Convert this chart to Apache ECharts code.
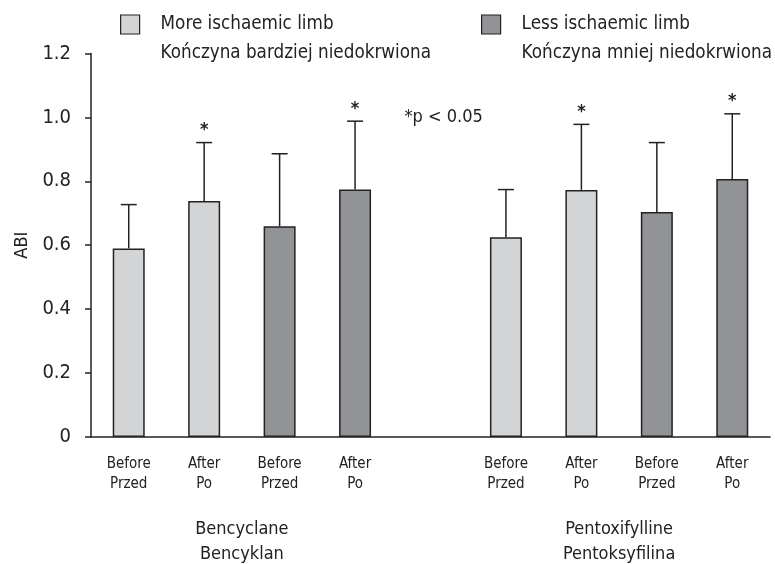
<!DOCTYPE html>
<html>
<head>
<meta charset="utf-8">
<script src="https://cdn.jsdelivr.net/npm/echarts@6/dist/echarts.min.js"></script>
<style>
html,body{margin:0;padding:0;background:#fff;}
#chart{width:775px;height:564px;}
</style>
</head>
<body>
<div id="chart"></div>
<script>
const FONT = '"Liberation Sans Narrow", "DejaVu Sans Condensed", "Roboto", sans-serif';
const categories = ['Before\nPrzed','After\nPo','Before\nPrzed','After\nPo','','Before\nPrzed','After\nPo','Before\nPrzed','After\nPo'];
const moreIschaemic = [0.590, 0.738, null, null, null, 0.625, 0.773, null, null];
const lessIschaemic = [null, null, 0.659, 0.774, null, null, null, 0.704, 0.807];
const errorTop = [0.727, 0.921, 0.886, 0.988, null, 0.774, 0.978, 0.921, 1.011];
const significant = [false, true, false, true, false, false, true, false, true];
const groupLabels = ['Bencyclane\nBencyklan', 'Pentoxifylline\nPentoksyfilina'];
const groupRanges = [[0, 3], [5, 8]];
const seriesNames = ['More ischaemic limb\nKończyna bardziej niedokrwiona', 'Less ischaemic limb\nKończyna mniej niedokrwiona'];
const yTicks = [0, 0.2, 0.4, 0.6, 0.8, 1.0, 1.2];
const noteText = '*p < 0.05';

const LIGHT = '#d3d4d6', DARK = '#929396';

const errData = [];
for (let i = 0; i < categories.length; i++) {
  const m = moreIschaemic[i] != null ? moreIschaemic[i] : lessIschaemic[i];
  if (m != null && errorTop[i] != null) errData.push([i, m, errorTop[i], significant[i] ? 1 : 0]);
}

const chart = echarts.init(document.getElementById('chart'), null, {renderer: 'canvas'});
const legendCommon = {
  orient: 'horizontal', top: -19, itemWidth: 19, itemHeight: 19, itemGap: 10,
  itemStyle: {borderColor: '#222', borderWidth: 1.2},
  formatter: name => '{e| }\n' + name.split('\n').map(s => '{t|' + s + '}').join('\n'),
  textStyle: {padding: [0, 0, 0, 16],
    rich: {
      e: {fontFamily: FONT, fontSize: 18.7, lineHeight: 29, color: '#222'},
      t: {fontFamily: FONT, fontSize: 18.7, lineHeight: 29, color: '#222'}
    }},
  selectedMode: false
};
chart.setOption({
  animation: false,
  backgroundColor: '#fff',
  textStyle: {fontFamily: FONT},
  legend: [
    Object.assign({left: 115, data: [{name: seriesNames[0], icon: 'rect'}]}, legendCommon),
    Object.assign({left: 476, data: [{name: seriesNames[1], icon: 'rect'}]}, legendCommon)
  ],
  grid: {left: 91, right: 5, top: 53.4, bottom: 127, containLabel: false},
  xAxis: {
    type: 'category', data: categories,
    axisLine: {show: true, lineStyle: {color: '#222', width: 1.5}},
    axisTick: {show: false},
    axisLabel: {interval: 0, fontFamily: FONT, fontSize: 15, lineHeight: 20, color: '#222', margin: 17}
  },
  yAxis: {
    type: 'value', min: 0, max: 1.2, interval: 0.2,
    name: 'ABI', nameLocation: 'middle', nameGap: 60, nameRotate: 90,
    nameTextStyle: {fontFamily: FONT, fontSize: 18, color: '#222'},
    axisLine: {show: true, lineStyle: {color: '#222', width: 1.5}},
    axisTick: {show: true, inside: false, length: 6, lineStyle: {color: '#222', width: 1.5}},
    splitLine: {show: false},
    axisLabel: {fontFamily: FONT, fontSize: 20, color: '#222', margin: 20,
      formatter: v => { const t = yTicks.find(x => Math.abs(x - v) < 1e-6); return t === 0 ? '0' : (t != null ? t.toFixed(1) : ''); }}
  },
  series: [
    {name: seriesNames[0], type: 'bar', data: moreIschaemic, barWidth: 32, barGap: '-100%',
      itemStyle: {color: LIGHT, borderColor: '#222', borderWidth: 1.5}},
    {name: seriesNames[1], type: 'bar', data: lessIschaemic, barWidth: 32, barGap: '-100%',
      itemStyle: {color: DARK, borderColor: '#222', borderWidth: 1.5}},
    {type: 'custom', data: errData, z: 1,
      encode: {x: 0, y: [1, 2]},
      renderItem: function (params, api) {
        const i = api.value(0);
        const p0 = api.coord([i, api.value(1)]);
        const p1 = api.coord([i, api.value(2)]);
        const hw = 8;
        const children = [
          {type: 'line', shape: {x1: p0[0], y1: p0[1], x2: p1[0], y2: p1[1]}, style: {stroke: '#222', lineWidth: 1.5}},
          {type: 'line', shape: {x1: p1[0] - hw, y1: p1[1], x2: p1[0] + hw, y2: p1[1]}, style: {stroke: '#222', lineWidth: 1.5}}
        ];
        if (api.value(3)) {
          children.push({type: 'text', x: p1[0], y: p1[1] - 3, style: {text: '*', fontFamily: FONT, fontSize: 18, fontWeight: 'bold', fill: '#222', align: 'center', verticalAlign: 'bottom'}});
        }
        return {type: 'group', children: children};
      }}
  ]
});

function drawGraphics() {
  const g = [];
  groupRanges.forEach((r, k) => {
    const a = chart.convertToPixel({xAxisIndex: 0}, r[0]);
    const b = chart.convertToPixel({xAxisIndex: 0}, r[1]);
    const y0 = chart.convertToPixel({yAxisIndex: 0}, 0);
    g.push({type: 'text', x: (a + b) / 2, y: y0 + 80, style: {text: groupLabels[k], fontFamily: FONT, fontSize: 18, lineHeight: 25, fill: '#222', align: 'center', verticalAlign: 'top'}});
  });
  const nx = chart.convertToPixel({xAxisIndex: 0}, 4);
  const ny = chart.convertToPixel({yAxisIndex: 0}, 1.0);
  g.push({type: 'text', x: nx - 26, y: ny, style: {text: noteText, fontFamily: FONT, fontSize: 18, fill: '#222', align: 'left', verticalAlign: 'middle'}});
  chart.setOption({graphic: g});
}
drawGraphics();
</script>
</body>
</html>
